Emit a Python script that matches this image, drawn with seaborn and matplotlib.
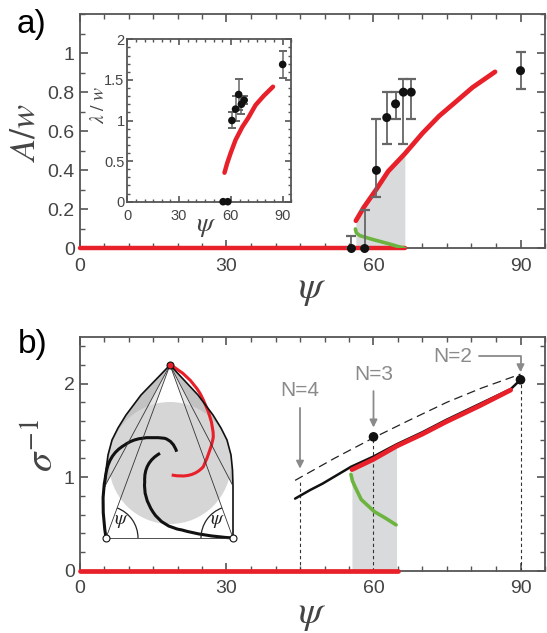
import numpy as np
import matplotlib
matplotlib.use('Agg')
import matplotlib.pyplot as plt
import seaborn as sns
from matplotlib.patches import Circle, Polygon, Arc, PathPatch
from matplotlib.path import Path
from matplotlib.ticker import MultipleLocator, FixedLocator, FuncFormatter

# ---- panel a : experiments (A/w and lambda/w vs psi)
psi_exp = [55.5, 58.2, 60.6, 62.7, 64.5, 66.1, 67.7, 90.0]
amp_exp = [0.0, 0.0, 0.40, 0.67, 0.74, 0.80, 0.80, 0.91]
amp_hi = [0.065, 0.197, 0.665, 0.80, 0.80, 0.868, 0.868, 1.007]
amp_lo = [0.0, 0.0, 0.265, 0.535, 0.665, 0.535, 0.665, 0.818]

lam_exp = [0.0, 0.0, 1.0, 1.14, 1.32, 1.20, 1.25, 1.69]
lam_hi = [0.0, 0.0, 1.10, 1.30, 1.51, 1.30, 1.30, 1.86]
lam_lo = [0.0, 0.0, 0.91, 1.00, 1.13, 1.08, 1.20, 1.52]

# theory, panel a
psi_red_a = [56.4, 58.0, 60.5, 63.0, 66.4, 70.0, 73.4, 77.0, 80.2, 84.8]
amp_red_a = [0.142, 0.21, 0.30, 0.395, 0.485, 0.59, 0.678, 0.755, 0.824, 0.904]
psi_green_a = [56.3, 56.5, 57.2, 60.0, 63.0, 66.4]
amp_green_a = [0.10, 0.08, 0.066, 0.045, 0.025, 0.0]
psi_flat_a = [0.0, 66.4]

psi_red_in = [56.3, 57.8, 59.8, 62.7, 66.6, 70.0, 74.3, 79.1, 84.4]
lam_red_in = [0.357, 0.47, 0.595, 0.76, 0.92, 1.03, 1.19, 1.305, 1.416]

# ---- panel b : sigma^-1 vs psi
psi_black = [44.0, 47.0, 49.6, 52.5, 55.4, 60.0, 64.7, 70.0, 74.8, 81.6, 88.0, 90.0]
sig_black = [0.77, 0.86, 0.93, 1.02, 1.11, 1.22, 1.35, 1.48, 1.61, 1.78, 1.94, 2.04]
psi_red_b = [55.6, 60.0, 64.7, 70.0, 74.8, 81.6, 88.0]
sig_red_b = [1.08, 1.19, 1.33, 1.46, 1.59, 1.76, 1.93]
psi_dash = [44.0, 52.0, 60.0, 67.0, 75.0, 82.0, 90.0]
sig_dash = [0.965, 1.20, 1.42, 1.60, 1.80, 1.95, 2.10]
psi_green_b = [55.4, 55.7, 56.2, 57.5, 60.2, 62.5, 64.6]
sig_green_b = [1.03, 0.96, 0.90, 0.76, 0.63, 0.56, 0.49]
psi_band = [55.6, 60.0, 64.7]
sig_band = [1.10, 1.22, 1.35]
psi_flat_b = [0.0, 64.9]

psi_N = [45.0, 60.0, 90.0]
sig_N = [0.955, 1.43, 2.04]
N_labels = ['N=4', 'N=3', 'N=2']
psi_dots = [60.0, 90.0]
sig_dots = [1.43, 2.04]

RED = '#e8202a'
GREEN = '#6cb43f'
BAND = '#d9dadc'
GRAY_TXT = '#8a8a8a'

sns.set_style('ticks')
plt.rcParams['font.family'] = ['Liberation Sans', 'DejaVu Sans']
plt.rcParams['mathtext.fontset'] = 'stix'

W, H = 547, 633
fig = plt.figure(figsize=(W / 100, H / 100), dpi=100)


def box(x0, y0, x1, y1):
    # pixel box (top-left origin) -> figure rect
    return [x0 / W, 1 - y1 / H, (x1 - x0) / W, (y1 - y0) / H]


def style(ax, size, xminor=5):
    ax.xaxis.set_major_locator(FixedLocator([0, 30, 60, 90]))
    ax.xaxis.set_minor_locator(MultipleLocator(xminor))
    ax.tick_params(which='both', direction='in', top=True, right=True,
                   colors='#555555', labelcolor='#444444', labelsize=size)
    ax.tick_params(which='major', length=6, width=1.2)
    ax.tick_params(which='minor', length=3.5, width=1.0)
    ax.yaxis.set_major_formatter(FuncFormatter(lambda v, p: '%g' % v))
    for s in ax.spines.values():
        s.set_color('#555555')
        s.set_linewidth(1.3)
    ax.set_xlabel('')
    ax.set_ylabel('')


def errbars(ax, x, y, lo, hi, **kw):
    err = [np.array(y) - np.array(lo), np.array(hi) - np.array(y)]
    _, caps, bars = ax.errorbar(x, y, yerr=err, fmt='none', ecolor='#666666', zorder=5, **kw)
    for c in caps:
        c.set_color('#111111')


# ================= panel a
ax_a = fig.add_axes(box(79.5, 14, 545, 248.5))
ax_a.fill_between(psi_red_a[:5], 0, amp_red_a[:5], color=BAND, lw=0, zorder=1)
sns.lineplot(x=psi_flat_a, y=[0, 0], ax=ax_a, color=RED, lw=3.2, clip_on=False, zorder=3)
sns.lineplot(x=psi_green_a, y=amp_green_a, ax=ax_a, color=GREEN, lw=2.6, sort=False,
             estimator=None, zorder=3, solid_capstyle='round')
sns.lineplot(x=psi_red_a, y=amp_red_a, ax=ax_a, color=RED, lw=3.4, sort=False,
             estimator=None, zorder=4, solid_capstyle='round')
errbars(ax_a, psi_exp, amp_exp, amp_lo, amp_hi, elinewidth=1.3, capsize=3.5, capthick=1.6,
        clip_on=False)
sns.scatterplot(x=psi_exp, y=amp_exp, ax=ax_a, color='#111111', s=42, edgecolor='none',
                zorder=6, clip_on=False)
ax_a.set_xlim(0, 95)
ax_a.set_ylim(0, 1.2)
style(ax_a, 14)
ax_a.set_yticks([0, 0.2, 0.4, 0.6, 0.8, 1.0])
ax_a.yaxis.set_minor_locator(FixedLocator(np.arange(0, 1.21, 0.1)))
ax_a.tick_params(axis='x', pad=7)

# inset of panel a
ax_i = fig.add_axes(box(127.3, 39.3, 291.3, 201.7))
sns.lineplot(x=psi_red_in, y=lam_red_in, ax=ax_i, color=RED, lw=3.2, sort=False,
             estimator=None, solid_capstyle='round')
errbars(ax_i, psi_exp[2:], lam_exp[2:], lam_lo[2:], lam_hi[2:], elinewidth=1.1, capsize=3,
        capthick=1.4)
sns.scatterplot(x=psi_exp, y=lam_exp, ax=ax_i, color='#111111', s=30, edgecolor='none',
                zorder=6, clip_on=False)
ax_i.set_xlim(0, 95)
ax_i.set_ylim(0, 2)
style(ax_i, 10.5)
ax_i.yaxis.set_major_locator(MultipleLocator(0.5))
ax_i.yaxis.set_minor_locator(MultipleLocator(0.1))
ax_i.tick_params(which='major', length=4)
ax_i.tick_params(which='minor', length=2.5)
ax_i.tick_params(axis='x', pad=5)
ax_i.tick_params(axis='y', pad=2)

# ================= panel b
ax_b = fig.add_axes(box(79.5, 336.7, 545, 570.7))
ax_b.fill_between(psi_band, 0, sig_band, color=BAND, lw=0, zorder=1)
for xv, yv in zip(psi_N, sig_N):
    ax_b.plot([xv, xv], [0, yv], color='#333333', lw=0.8, ls=(0, (3, 2.5)), zorder=2)
sns.lineplot(x=psi_dash, y=sig_dash, ax=ax_b, color='#222222', lw=0.9, ls=(0, (7, 4)),
             sort=False, estimator=None, zorder=3)
sns.lineplot(x=psi_black, y=sig_black, ax=ax_b, color='#111111', lw=1.8, sort=False,
             estimator=None, zorder=3)
sns.lineplot(x=psi_red_b, y=sig_red_b, ax=ax_b, color=RED, lw=3.4, sort=False,
             estimator=None, zorder=4)
sns.lineplot(x=psi_green_b, y=sig_green_b, ax=ax_b, color=GREEN, lw=2.6, sort=False,
             estimator=None, zorder=4)
sns.lineplot(x=psi_flat_b, y=[0, 0], ax=ax_b, color=RED, lw=3.4, clip_on=False, zorder=5)
sns.scatterplot(x=psi_dots, y=sig_dots, ax=ax_b, color='#111111', s=48, edgecolor='none',
                zorder=6, clip_on=False)
arrow = dict(arrowstyle='-|>', color=GRAY_TXT, lw=1.3, mutation_scale=11, shrinkA=3, shrinkB=0)
ax_b.annotate(N_labels[0], xy=(psi_N[0], 1.09), xytext=(psi_N[0], 1.92), ha='center',
              va='center', fontsize=15, color=GRAY_TXT, arrowprops=arrow)
ax_b.annotate(N_labels[1], xy=(psi_N[1], 1.53), xytext=(psi_N[1], 2.10), ha='center',
              va='center', fontsize=15, color=GRAY_TXT, arrowprops=arrow)
arrow2 = dict(arrow, connectionstyle='angle,angleA=0,angleB=90,rad=0')
ax_b.annotate(N_labels[2], xy=(psi_N[2], 2.12), xytext=(76.1, 2.29), ha='center',
              va='center', fontsize=15, color=GRAY_TXT, arrowprops=arrow2)
ax_b.set_xlim(0, 95)
ax_b.set_ylim(0, 2.5)
style(ax_b, 14)
ax_b.yaxis.set_major_locator(FixedLocator([0, 1, 2]))
ax_b.yaxis.set_minor_locator(MultipleLocator(0.2))
ax_b.tick_params(axis='x', pad=7)

# schematic in panel b (pixel coordinates of the figure)
ax_s = fig.add_axes(box(95, 355, 240, 545))
ax_s.set_xlim(95, 240)
ax_s.set_ylim(545, 355)
ax_s.axis('off')
ax_s.patch.set_alpha(0)

apex = (170, 365)
left_c = (106, 538)
right_c = (233, 538)
hull_left = [(170, 365), (141, 395), (126, 415), (118, 428), (112, 440), (108, 455),
             (106, 470), (105, 486)]
hull_right = [(170, 365), (198, 395), (213, 415), (221, 428), (227, 440), (231, 455),
              (232.5, 470), (233, 486), (233, 538)]
ax_s.add_patch(Polygon(hull_left, closed=True, fc='#c2c2c2', ec='none'))
ax_s.add_patch(Polygon(hull_right[:-1], closed=True, fc='#c2c2c2', ec='none'))
ax_s.add_patch(Polygon([apex, (129.6, 440), (142.3, 440)], fc='#e6e6e6', ec='none'))
ax_s.add_patch(Polygon([apex, (210.4, 440), (197.7, 440)], fc='#e6e6e6', ec='none'))
ax_s.add_patch(Circle((170, 463), 61, fc='#d6d6d6', ec='none'))
for hull in (hull_left, hull_right):
    hx, hy = zip(*hull)
    ax_s.plot(hx, hy, color='#111111', lw=1.2)
for pts in ([apex, left_c], [apex, right_c], [apex, hull_left[-1]],
            [apex, hull_right[-2]], [left_c, right_c]):
    px, py = zip(*pts)
    ax_s.plot(px, py, color='#333333', lw=0.6)


def smooth(pts):
    # quadratic pieces through every second point
    verts, codes = [pts[0]], [Path.MOVETO]
    for i in range(0, len(pts) - 2, 2):
        a, b, c = np.array(pts[i]), np.array(pts[i + 1]), np.array(pts[i + 2])
        q = 2 * b - (a + c) / 2
        verts += [tuple(q), tuple(c)]
        codes += [Path.CURVE3, Path.CURVE3]
    return Path(verts, codes)


arm_red = [(170, 365), (186.7, 376.7), (200, 393.3), (210, 416.7), (213.3, 436.7),
           (210, 450), (203.3, 466.7), (190, 475), (171.7, 475)]
arm_left = [(106, 538), (103, 505), (105.3, 478), (111.3, 458), (124.7, 445),
            (141.3, 438.3), (164.7, 438.3), (172, 443), (176.7, 451.7)]
arm_right = [(233, 538), (205, 535), (182, 530), (165, 524), (153, 512), (146, 497),
             (144.7, 481.7), (148, 465), (160, 453.3)]
ax_s.add_patch(PathPatch(smooth(arm_left), fc='none', ec='#111111', lw=2.2))
ax_s.add_patch(PathPatch(smooth(arm_right), fc='none', ec='#111111', lw=2.2))
ax_s.add_patch(PathPatch(smooth(arm_red), fc='none', ec=RED, lw=2.2))
ax_s.add_patch(Arc(left_c, 64, 64, theta1=-69.7, theta2=0, color='#222222', lw=0.9))
ax_s.add_patch(Arc(right_c, 64, 64, theta1=-180, theta2=-110, color='#222222', lw=0.9))
ax_s.text(122, 522, r'$\psi$', fontsize=14, ha='center', va='center', color='#222222')
ax_s.text(218, 522, r'$\psi$', fontsize=14, ha='center', va='center', color='#222222')
ax_s.plot(*apex, 'o', ms=5, mfc=RED, mec='#111111', mew=0.8, clip_on=False)
for c in (left_c, right_c):
    ax_s.plot(*c, 'o', ms=5, mfc='white', mec='#111111', mew=0.8, clip_on=False)


# ================= labels
def ftext(x, y, s, **kw):
    fig.text(x / W, 1 - y / H, s, ha='center', va='center', **kw)


ftext(31, 25, 'a)', fontsize=24, color='black')
ftext(33, 345, 'b)', fontsize=24, color='black')
ftext(25, 132, r'$A/w$', fontsize=26, rotation=90, color='#444444')
ftext(312, 290, r'$\psi$', fontsize=28, color='#444444')
ftext(99, 105, r'$\lambda\ /\ w$', fontsize=14, rotation=90, color='#444444')
ftext(206, 226, r'$\psi$', fontsize=20, color='#444444')
ftext(43, 445, r'$\sigma^{-1}$', fontsize=28, rotation=90, color='#444444')
ftext(312, 615, r'$\psi$', fontsize=28, color='#444444')

fig.savefig('out.png', dpi=100)
